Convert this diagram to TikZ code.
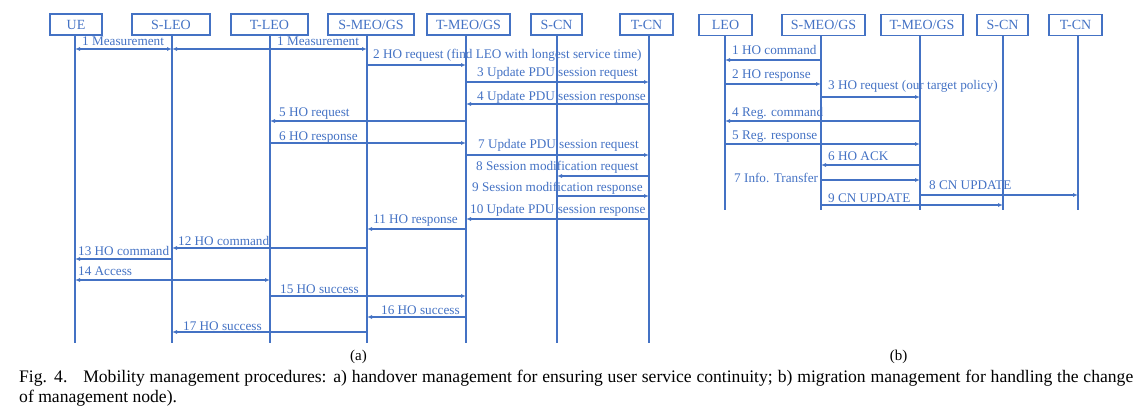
\documentclass[tikz,border=0pt]{standalone}
\usepackage{fontspec}
\setmainfont{Liberation Serif}
\usetikzlibrary{arrows.meta}
\definecolor{diagblue}{RGB}{68,114,196}
\begin{document}
\begin{tikzpicture}[x=1pt,y=-1pt,
 box/.style={draw=diagblue, line width=1.5pt, text=diagblue, font=\fontsize{14}{16}\selectfont, minimum height=21pt, inner sep=0pt},
 life/.style={draw=diagblue, line width=1.2pt},
 msg/.style={draw=diagblue, line width=1.2pt, -{Latex[length=5pt,width=4pt]}},
 dmsg/.style={draw=diagblue, line width=1.2pt, {Latex[length=5pt,width=4pt]}-{Latex[length=5pt,width=4pt]}},
 lbl/.style={anchor=base west, inner sep=0pt, text=diagblue, font=\fontsize{13.2}{15}\selectfont},
 sub/.style={anchor=base, inner sep=0pt, font=\fontsize{15}{17}\selectfont},
]
\useasboundingbox (0,0) rectangle (1146,414);
% ---------- (a) ----------
\node[box, minimum width=52pt] (bUE) at (76,24.5) {UE};
\node[box, minimum width=78pt] (bSLEO) at (171,24.5) {S-LEO};
\node[box, minimum width=77pt] (bTLEO) at (269.5,24.5) {T-LEO};
\node[box, minimum width=86pt] (bSMEO) at (371,24.5) {S-MEO/GS};
\node[box, minimum width=83pt] (bTMEO) at (468.5,24.5) {T-MEO/GS};
\node[box, minimum width=51pt] (bSCN) at (556.5,24.5) {S-CN};
\node[box, minimum width=53pt] (bTCN) at (646.5,24.5) {T-CN};
\coordinate (UE) at (75,35);   \coordinate (UEe) at (75,343);
\coordinate (SLEO) at (172,35); \coordinate (SLEOe) at (172,343);
\coordinate (TLEO) at (270,35); \coordinate (TLEOe) at (270,343);
\coordinate (SMEO) at (367,35); \coordinate (SMEOe) at (367,343);
\coordinate (TMEO) at (466,35); \coordinate (TMEOe) at (466,343);
\coordinate (SCN) at (557,35);  \coordinate (SCNe) at (557,343);
\coordinate (TCN) at (649,35);  \coordinate (TCNe) at (649,343);
\foreach \l in {UE,SLEO,TLEO,SMEO,TMEO,SCN,TCN} \draw[life] (\l) -- (\l e);

\draw[dmsg] (UE |- 0,49) -- (SLEO |- 0,49);
\node[lbl] (t1a) at (82,46) {1 Measurement};
\draw[dmsg] (SLEO |- 0,49) -- (SMEO |- 0,49);
\node[lbl] (t1b) at (277,46) {1 Measurement};
\draw[msg] (SMEO |- 0,65) -- (TMEO |- 0,65);
\node[lbl] (t2) at (373,59) {2 HO request (find LEO with longest service time)};
\draw[msg] (TMEO |- 0,82) -- (TCN |- 0,82);
\node[lbl] (t3) at (477,76.5) {3 Update PDU session request};
\draw[msg] (TCN |- 0,104) -- (TMEO |- 0,104);
\node[lbl] (t4) at (477,100.5) {4 Update PDU session response};
\draw[msg] (TMEO |- 0,121) -- (TLEO |- 0,121);
\node[lbl] (t5) at (279,117) {5 HO request};
\draw[msg] (TLEO |- 0,143) -- (TMEO |- 0,143);
\node[lbl] (t6) at (279,140.5) {6 HO response};
\draw[msg] (TMEO |- 0,155) -- (TCN |- 0,155);
\node[lbl] (t7) at (478,149) {7 Update PDU session request};
\draw[msg] (TCN |- 0,176) -- (SCN |- 0,176);
\node[lbl] (t8) at (476,170.5) {8 Session modification request};
\draw[msg] (SCN |- 0,196) -- (TCN |- 0,196);
\node[lbl] (t9) at (472,192) {9 Session modification response};
\draw[msg] (TCN |- 0,219) -- (TMEO |- 0,219);
\node[lbl] (t10) at (470,214) {10 Update PDU session response};
\draw[msg] (TMEO |- 0,229) -- (SMEO |- 0,229);
\node[lbl] (t11) at (373,224) {11 HO response};
\draw[msg] (SMEO |- 0,248) -- (SLEO |- 0,248);
\node[lbl] (t12) at (178,245) {12 HO command};
\draw[msg] (SLEO |- 0,259) -- (UE |- 0,259);
\node[lbl] (t13) at (78,255.5) {13 HO command};
\draw[dmsg] (UE |- 0,280) -- (TLEO |- 0,280);
\node[lbl] (t14) at (78,276) {14 Access};
\draw[msg] (TLEO |- 0,296) -- (TMEO |- 0,296);
\node[lbl] (t15) at (280,293) {15 HO success};
\draw[msg] (TMEO |- 0,317) -- (SMEO |- 0,317);
\node[lbl] (t16) at (381,314) {16 HO success};
\draw[msg] (SMEO |- 0,332) -- (SLEO |- 0,332);
\node[lbl] (t17) at (183,330) {17 HO success};
\node[sub] (suba) at (358.5,360) {(a)};

% ---------- (b) ----------
\node[box, minimum width=53pt] (rbLEO) at (725.5,25) {LEO};
\node[box, minimum width=83pt] (rbSMEO) at (823.5,25) {S-MEO/GS};
\node[box, minimum width=82pt] (rbTMEO) at (922,25) {T-MEO/GS};
\node[box, minimum width=51pt] (rbSCN) at (1002.5,25) {S-CN};
\node[box, minimum width=53pt] (rbTCN) at (1075.5,25) {T-CN};
\coordinate (rLEO) at (725,35.5);   \coordinate (rLEOe) at (725,210);
\coordinate (rSMEO) at (821,35.5);  \coordinate (rSMEOe) at (821,210);
\coordinate (rTMEO) at (920,35.5);  \coordinate (rTMEOe) at (920,210);
\coordinate (rSCN) at (1003,35.5);  \coordinate (rSCNe) at (1003,210);
\coordinate (rTCN) at (1078,35.5);  \coordinate (rTCNe) at (1078,210);
\foreach \l in {rLEO,rSMEO,rTMEO,rSCN,rTCN} \draw[life] (\l) -- (\l e);

\draw[msg] (rSMEO |- 0,60) -- (rLEO |- 0,60);
\node[lbl] (r1) at (732,55) {1 HO command};
\draw[msg] (rLEO |- 0,84) -- (rSMEO |- 0,84);
\node[lbl] (r2) at (732,79) {2 HO response};
\draw[msg] (rSMEO |- 0,97) -- (rTMEO |- 0,97);
\node[lbl] (r3) at (828,90) {3 HO request (our target policy)};
\draw[msg] (rTMEO |- 0,121) -- (rLEO |- 0,121);
\node[lbl] (r4) at (732,117) {4 Reg. command};
\draw[msg] (rLEO |- 0,144) -- (rTMEO |- 0,144);
\node[lbl] (r5) at (732,140) {5 Reg. response};
\draw[msg] (rTMEO |- 0,165) -- (rSMEO |- 0,165);
\node[lbl] (r6) at (828,161) {6 HO ACK};
\draw[msg] (rSMEO |- 0,180) -- (rTMEO |- 0,180);
\node[lbl] (r7) at (734,183) {7 Info. Transfer};
\draw[msg] (rTMEO |- 0,195) -- (rTCN |- 0,195);
\node[lbl] (r8) at (929,190) {8 CN UPDATE};
\draw[msg] (rSMEO |- 0,205) -- (rSCN |- 0,205);
\node[lbl] (r9) at (828,202.5) {9 CN UPDATE};
\node[sub] (subb) at (898.5,360) {(b)};

% ---------- caption ----------
\node[anchor=base west, inner sep=0pt, text width=1114pt, align=justify,
      font=\fontsize{17.6}{20}\selectfont] (cap) at (19,382)
  {Fig. 4.\hspace{0.9em}Mobility management procedures: a) handover management for ensuring user service continuity; b) migration management for handling the change\linebreak of management node).};
\end{tikzpicture}
\end{document}
